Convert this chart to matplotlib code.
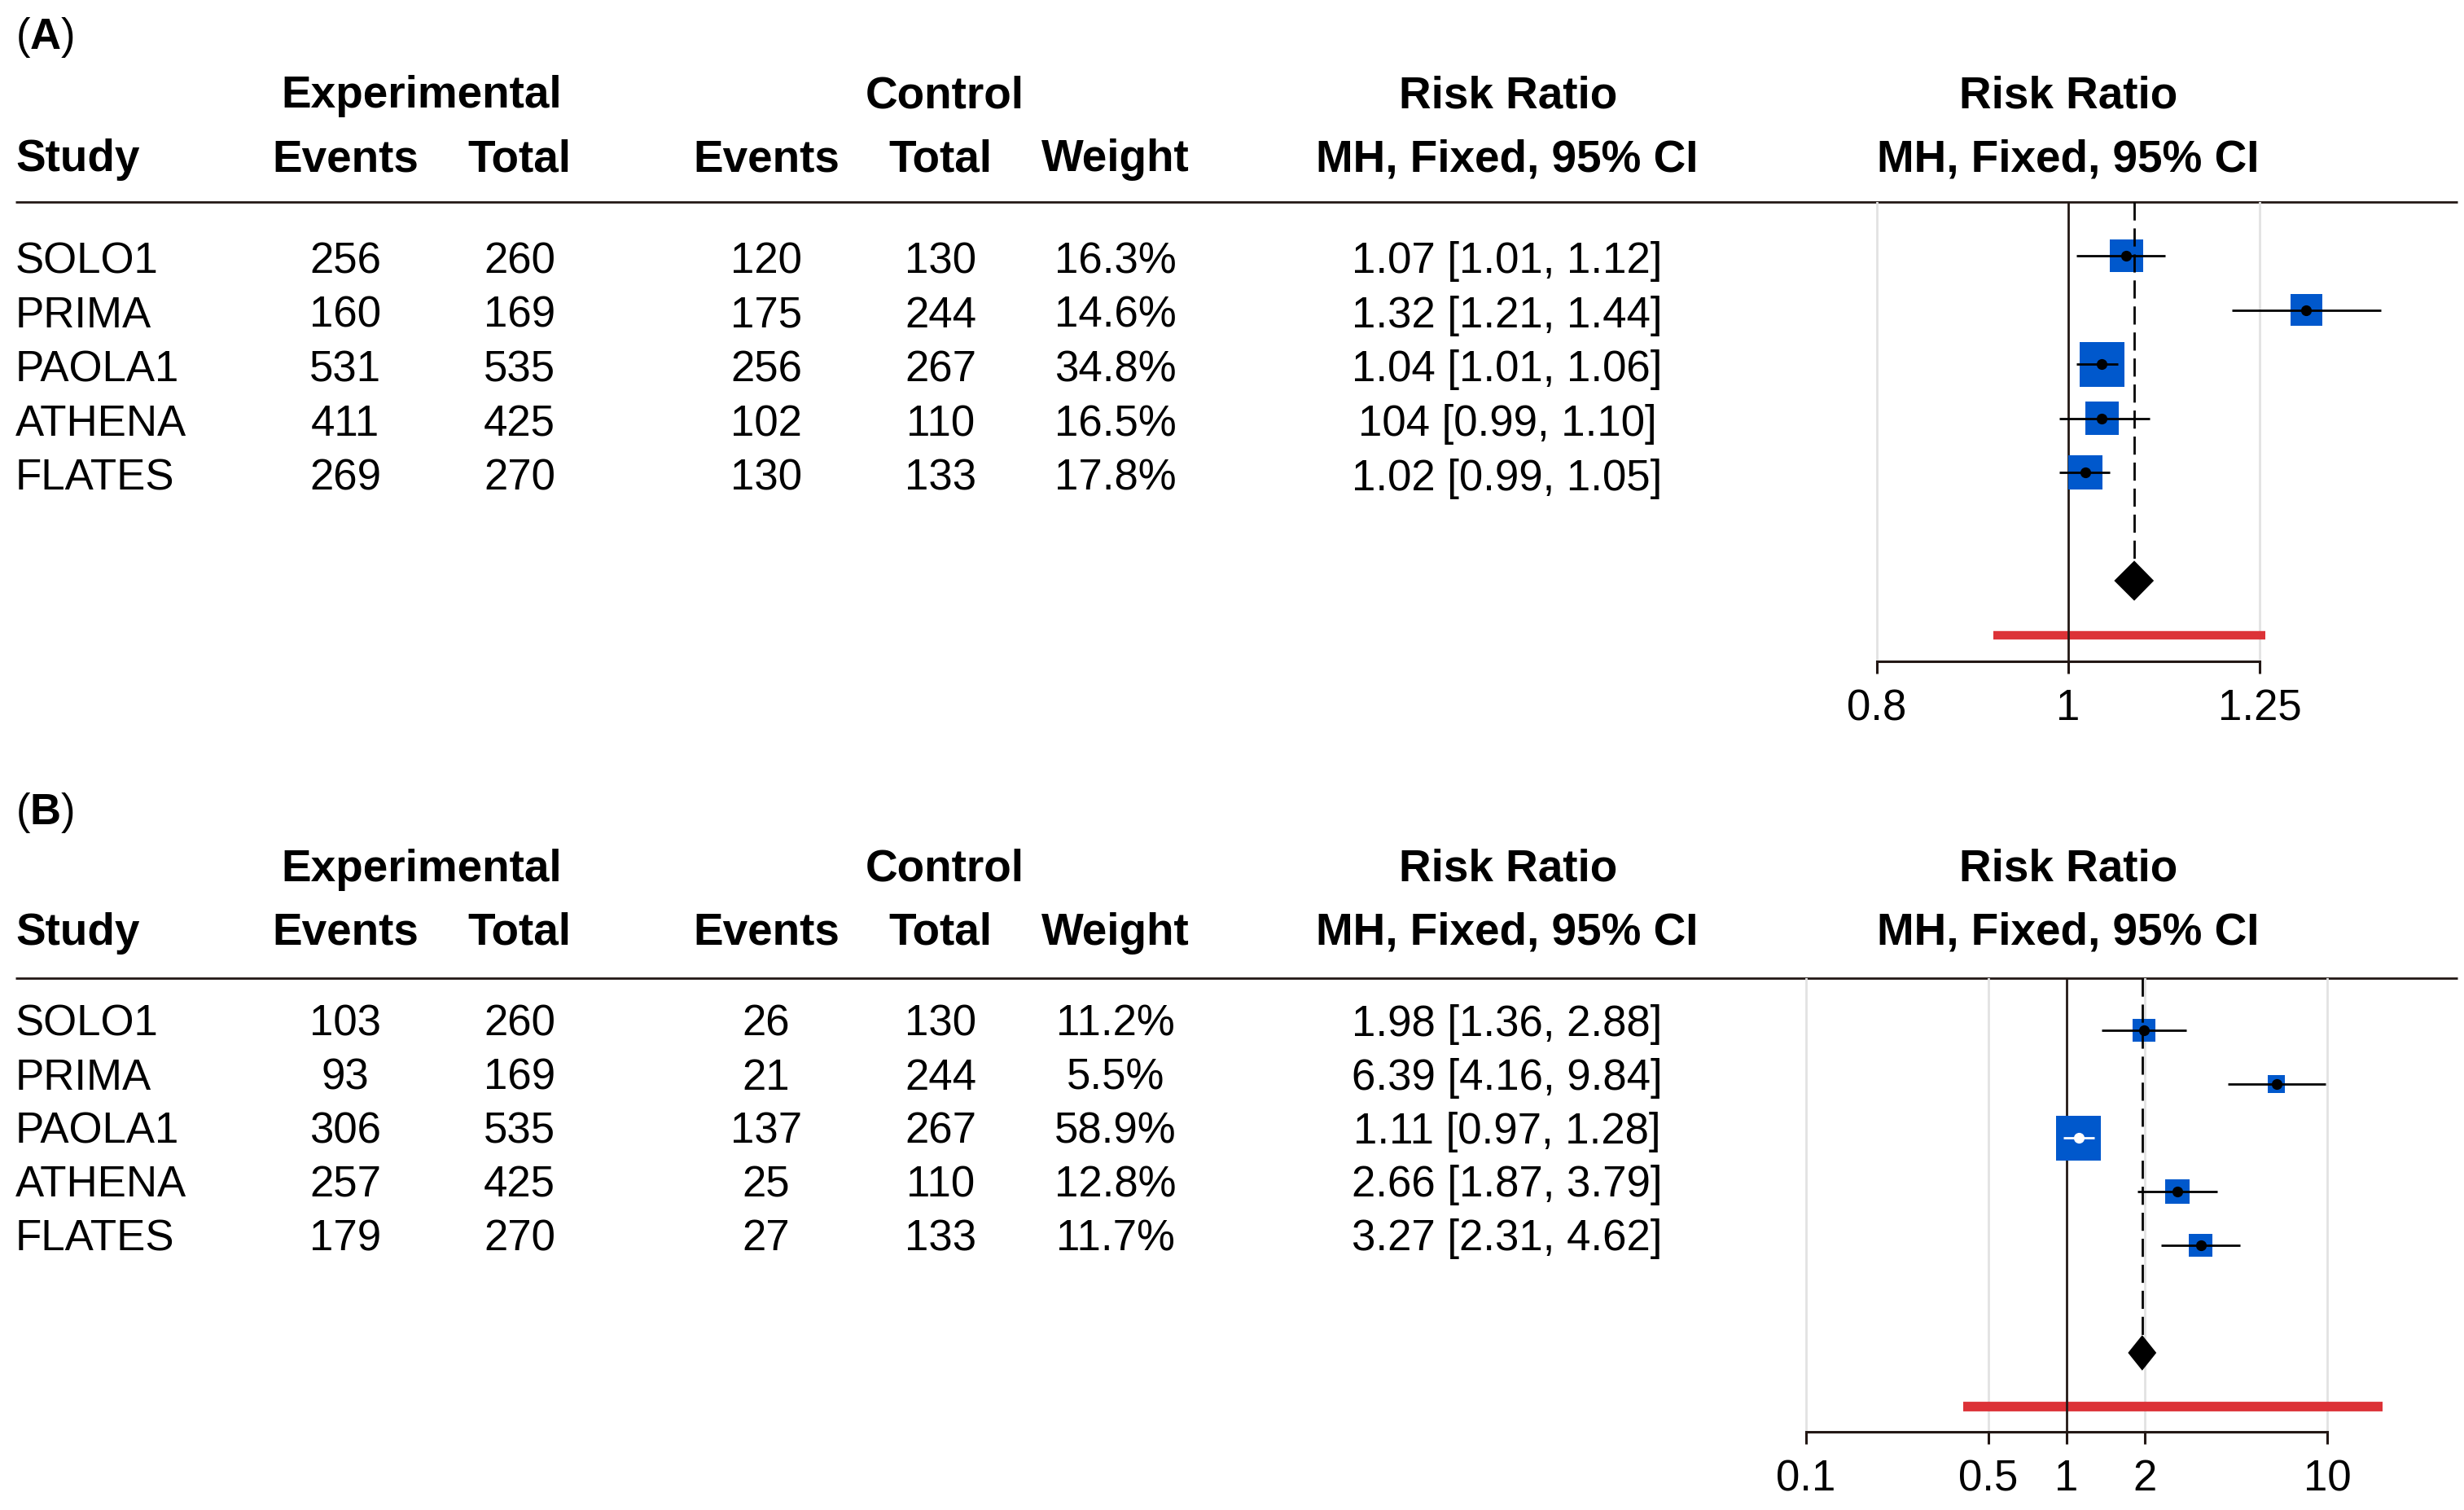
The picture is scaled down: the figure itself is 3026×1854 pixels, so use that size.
import numpy as np
import matplotlib
matplotlib.use("Agg")
import matplotlib.pyplot as plt
from matplotlib.ticker import NullLocator, FixedLocator, FixedFormatter
from matplotlib.patches import Polygon

# ---------------- data ----------------
studies = ["SOLO1", "PRIMA", "PAOLA1", "ATHENA", "FLATES"]

a_exp_events = [256, 160, 531, 411, 269]
a_exp_total = [260, 169, 535, 425, 270]
a_ctl_events = [120, 175, 256, 102, 130]
a_ctl_total = [130, 244, 267, 110, 133]
a_weight = [16.3, 14.6, 34.8, 16.5, 17.8]
a_rr = [1.07, 1.32, 1.04, 1.04, 1.02]
a_lo = [1.01, 1.21, 1.01, 0.99, 0.99]
a_hi = [1.12, 1.44, 1.06, 1.10, 1.05]
a_rr_text = ["1.07 [1.01, 1.12]", "1.32 [1.21, 1.44]", "1.04 [1.01, 1.06]",
             "104 [0.99, 1.10]", "1.02 [0.99, 1.05]"]
a_pooled = [1.08, 1.055, 1.105]      # estimate, lower, upper
a_interval = [0.916, 1.258]          # red bar
a_ticks = [0.8, 1, 1.25]
a_ticklabels = ["0.8", "1", "1.25"]

b_exp_events = [103, 93, 306, 257, 179]
b_exp_total = [260, 169, 535, 425, 270]
b_ctl_events = [26, 21, 137, 25, 27]
b_ctl_total = [130, 244, 267, 110, 133]
b_weight = [11.2, 5.5, 58.9, 12.8, 11.7]
b_rr = [1.98, 6.39, 1.11, 2.66, 3.27]
b_lo = [1.36, 4.16, 0.97, 1.87, 2.31]
b_hi = [2.88, 9.84, 1.28, 3.79, 4.62]
b_rr_text = ["1.98 [1.36, 2.88]", "6.39 [4.16, 9.84]", "1.11 [0.97, 1.28]",
             "2.66 [1.87, 3.79]", "3.27 [2.31, 4.62]"]
b_pooled = [1.95, 1.72, 2.21]
b_interval = [0.40, 16.3]
b_ticks = [0.1, 0.5, 1, 2, 10]
b_ticklabels = ["0.1", "0.5", "1", "2", "10"]

group_headers = ["Experimental", "Control", "Risk Ratio", "Risk Ratio"]
col_headers = ["Study", "Events", "Total", "Events", "Total", "Weight",
               "MH, Fixed, 95% CI", "MH, Fixed, 95% CI"]

# ---------------- style ----------------
W, H, DPI = 3026, 1854, 100
FS = 38
FSB = 39.5
LINE = "#231815"
BLUE = "#0058cc"
RED = "#dc3237"
GRID = "#e2e2e2"

plt.rcParams["font.family"] = ["Liberation Sans", "DejaVu Sans"]
plt.rcParams["mathtext.fontset"] = "custom"
plt.rcParams["mathtext.rm"] = "Liberation Sans"
plt.rcParams["mathtext.bf"] = "Liberation Sans:bold"

fig = plt.figure(figsize=(W / DPI, H / DPI), dpi=DPI)
tax = fig.add_axes([0, 0, 1, 1])
tax.set_xlim(0, W)
tax.set_ylim(H, 0)
tax.axis("off")

# column x centres (pixels)
col_x = [19, 424, 638, 941, 1155, 1370, 1851, 2540]
group_x = [518, 1160, 1852, 2540]

panels = [
    dict(label="A", exp_e=a_exp_events, exp_t=a_exp_total, ctl_e=a_ctl_events,
         ctl_t=a_ctl_total, w=a_weight, rr=a_rr, lo=a_lo, hi=a_hi, txt=a_rr_text,
         pooled=a_pooled, interval=a_interval, ticks=a_ticks, ticklabels=a_ticklabels,
         lab_y=60, h1_y=132, h2_y=210, rule_y=248, row0=335, step=66.7,
         mark0=314, mstep=66.5, axis_y=812, one_px=2540, k=1053.0,
         exp=np.exp, dia_half=0.37, inner=["k"] * 5, red_lw=7.5),
    dict(label="B", exp_e=b_exp_events, exp_t=b_exp_total, ctl_e=b_ctl_events,
         ctl_t=b_ctl_total, w=b_weight, rr=b_rr, lo=b_lo, hi=b_hi, txt=b_rr_text,
         pooled=b_pooled, interval=b_interval, ticks=b_ticks, ticklabels=b_ticklabels,
         lab_y=1012, h1_y=1082, h2_y=1160, rule_y=1201, row0=1272, step=65.8,
         mark0=1265, mstep=66.0, axis_y=1758, one_px=2538, k=320.0,
         exp=lambda v: 10 ** v, dia_half=0.33, inner=["k", "k", "w", "k", "k"], red_lw=8.5),
]

FX0, FX1 = 2200, 3026

for p in panels:
    # panel label
    tax.text(19, p["lab_y"], "($\\mathbf{%s}$)" % p["label"], fontsize=FS,
             ha="left", va="baseline")
    # headers
    for gx, g in zip(group_x, group_headers):
        tax.text(gx, p["h1_y"], g, fontsize=FSB, fontweight="bold", ha="center", va="baseline")
    for i, (cx, c) in enumerate(zip(col_x, col_headers)):
        tax.text(cx, p["h2_y"], c, fontsize=FSB, fontweight="bold",
                 ha="left" if i == 0 else "center", va="baseline")
    tax.plot([19, 3018], [p["rule_y"], p["rule_y"]], color=LINE, lw=2, solid_capstyle="butt")
    # rows
    for i, s in enumerate(studies):
        y = p["row0"] + i * p["step"]
        vals = [s, str(p["exp_e"][i]), str(p["exp_t"][i]), str(p["ctl_e"][i]),
                str(p["ctl_t"][i]), "%.1f%%" % p["w"][i], p["txt"][i]]
        for j, v in enumerate(vals):
            tax.text(col_x[j] if j < 6 else 1851, y, v, fontsize=FS,
                     ha="left" if j == 0 else "center", va="baseline")

    # forest axes
    y0, y1 = p["rule_y"], p["axis_y"]
    ax = fig.add_axes([FX0 / W, 1 - y1 / H, (FX1 - FX0) / W, (y1 - y0) / H])
    ax.set_facecolor("none")
    ax.set_xscale("log")
    ax.set_xlim(p["exp"]((FX0 - p["one_px"]) / p["k"]), p["exp"]((FX1 - p["one_px"]) / p["k"]))
    ax.set_ylim((y1 - p["mark0"]) / p["mstep"], (y0 - p["mark0"]) / p["mstep"])

    for t in p["ticks"]:
        if t != 1:
            ax.axvline(t, color=GRID, lw=2, zorder=1)
    ax.axvline(1, color=LINE, lw=2, zorder=3)

    n = len(studies)
    ypos = np.arange(n)
    wmax = max(p["w"])
    side_pt = [55 * (wi / wmax) ** 0.4 * 0.72 for wi in p["w"]]
    ax.scatter(p["rr"], ypos, s=[sp ** 2 for sp in side_pt], marker="s", color=BLUE,
               linewidths=0, zorder=4)
    for i in range(n):
        ax.plot([p["lo"][i], p["hi"][i]], [i, i], color=p["inner"][i], lw=2,
                solid_capstyle="butt", zorder=5)
        ax.plot([p["rr"][i]], [i], "o", color=p["inner"][i], ms=9.5, mew=0, zorder=6)

    # pooled diamond
    est, plo, phi = p["pooled"]
    yd = n + 1
    dh = p["dia_half"]
    ax.add_patch(Polygon([[plo, yd], [est, yd - dh], [phi, yd], [est, yd + dh]],
                         closed=True, facecolor="k", edgecolor="none", zorder=6))
    ax.plot([est, est], [(y0 - p["mark0"]) / p["mstep"], yd - dh], color="k", lw=2,
            dashes=(8, 3.5), zorder=7)

    # red interval bar
    ax.plot(p["interval"], [n + 2, n + 2], color=RED, lw=p["red_lw"],
            solid_capstyle="butt", zorder=2)

    # axes styling
    for sp in ["top", "left", "right"]:
        ax.spines[sp].set_visible(False)
    ax.spines["bottom"].set_color(LINE)
    ax.spines["bottom"].set_linewidth(2.2)
    ax.spines["bottom"].set_bounds(p["ticks"][0], p["ticks"][-1])
    ax.xaxis.set_major_locator(FixedLocator(p["ticks"]))
    ax.xaxis.set_major_formatter(FixedFormatter(p["ticklabels"]))
    ax.xaxis.set_minor_locator(NullLocator())
    ax.set_yticks([])
    ax.tick_params(axis="x", length=11, width=2.2, color=LINE, labelsize=FS, pad=13,
                   direction="out")

fig.savefig("out.png", dpi=DPI)
